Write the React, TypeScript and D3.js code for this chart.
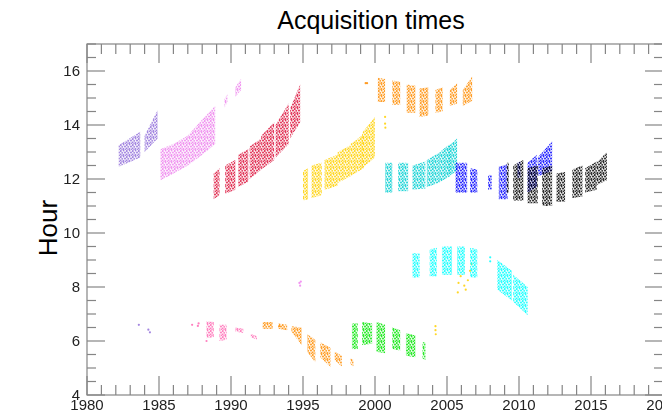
import * as d3 from 'd3';

// Each band: [yearStart, yearEnd, lowAtStart, highAtStart, lowAtEnd, highAtEnd] in hours
type Band = [number, number, number, number, number, number];
type Pt = [number, number];

const purpleBands: Band[] = [
  [1982.2, 1983.7, 12.45, 13.25, 12.8, 13.75],
  [1984.0, 1984.9, 13.0, 13.6, 13.5, 14.55],
];
const purpleDots: Pt[] = [[1983.6, 6.6], [1984.26, 6.42], [1984.37, 6.32]];

const violetBands: Band[] = [
  [1985.1, 1986.0, 11.95, 13.1, 12.2, 13.3],
  [1986.0, 1987.0, 12.2, 13.3, 12.5, 13.6],
  [1987.0, 1988.0, 12.5, 13.6, 12.9, 14.2],
  [1988.0, 1988.9, 12.9, 14.2, 13.3, 14.7],
  [1989.55, 1989.75, 14.65, 14.95, 14.85, 15.15],
  [1990.3, 1990.7, 15.05, 15.4, 15.3, 15.7],
];
const violetDots: Pt[] = [[1994.75, 8.15], [1994.8, 8.05], [1994.85, 8.2]];

const pinkBands: Band[] = [
  [1988.3, 1988.8, 6.1, 6.73, 6.15, 6.7],
  [1989.2, 1989.7, 6.0, 6.6, 6.05, 6.6],
  [1990.3, 1990.85, 6.35, 6.5, 6.3, 6.45],
  [1991.37, 1991.8, 6.15, 6.26, 6.05, 6.18],
];
const pinkDots: Pt[] = [[1987.3, 6.6], [1987.7, 6.56], [1987.75, 6.65], [1988.3, 6.0]];

const crimsonBands: Band[] = [
  [1988.8, 1989.2, 11.25, 12.2, 11.4, 12.4],
  [1989.6, 1990.3, 11.45, 12.5, 11.6, 12.7],
  [1990.5, 1991.2, 11.7, 12.9, 11.9, 13.1],
  [1991.3, 1992.1, 12.0, 13.2, 12.35, 13.5],
  [1992.1, 1993.0, 12.35, 13.6, 12.7, 14.1],
  [1993.1, 1994.0, 12.8, 14.0, 13.3, 14.8],
  [1994.1, 1994.8, 13.5, 14.6, 14.1, 15.5],
];

const orangeLowBands: Band[] = [
  [1992.2, 1992.9, 6.45, 6.7, 6.45, 6.7],
  [1993.3, 1993.9, 6.45, 6.65, 6.4, 6.6],
  [1994.2, 1994.9, 6.35, 6.55, 5.85, 6.5],
  [1995.3, 1995.85, 5.6, 6.25, 5.2, 6.05],
  [1996.2, 1996.9, 5.4, 5.95, 5.05, 5.75],
  [1997.2, 1997.7, 5.3, 5.6, 5.05, 5.45],
  [1998.3, 1998.5, 5.15, 5.35, 5.05, 5.3],
];
const orangeHighBands: Band[] = [
  [2000.2, 2000.7, 14.85, 15.75, 14.85, 15.7],
  [2001.2, 2001.75, 14.75, 15.65, 14.75, 15.6],
  [2002.2, 2002.8, 14.45, 15.5, 14.45, 15.45],
  [2003.1, 2003.7, 14.3, 15.35, 14.35, 15.4],
  [2004.2, 2004.7, 14.45, 15.3, 14.5, 15.4],
  [2005.2, 2005.7, 14.7, 15.3, 14.8, 15.55],
  [2006.1, 2006.75, 14.7, 15.3, 14.9, 15.8],
];
const orangeDots: Pt[] = [[1999.35, 15.55], [1999.45, 15.55], [1993.35, 6.55]];

const goldBands: Band[] = [
  [1995.0, 1995.35, 11.2, 12.3, 11.25, 12.4],
  [1995.6, 1996.3, 11.3, 12.5, 11.4, 12.6],
  [1996.5, 1997.4, 11.6, 12.7, 11.75, 12.9],
  [1997.4, 1998.3, 11.85, 13.0, 12.1, 13.25],
  [1998.3, 1999.2, 12.1, 13.3, 12.4, 13.65],
  [1999.1, 2000.0, 12.4, 13.7, 12.8, 14.3],
];
const goldDots: Pt[] = [
  [2000.7, 14.3], [2000.7, 14.05], [2000.72, 13.9],
  [2004.2, 6.55], [2004.2, 6.4], [2004.22, 6.25],
  [2005.75, 7.8], [2005.8, 8.15], [2005.95, 8.4], [2006.2, 8.05],
  [2006.45, 8.25], [2006.6, 8.6], [2006.7, 8.85], [2006.3, 7.9],
];

const greenBands: Band[] = [
  [1998.4, 1998.8, 5.7, 6.65, 5.7, 6.65],
  [1999.1, 1999.8, 5.85, 6.7, 5.9, 6.65],
  [2000.1, 2000.7, 5.6, 6.7, 5.55, 6.6],
  [2001.2, 2001.75, 5.7, 6.5, 5.65, 6.4],
  [2002.15, 2002.8, 5.45, 6.3, 5.4, 6.2],
  [2003.3, 2003.5, 5.35, 5.95, 5.3, 5.95],
];

const turquoiseBands: Band[] = [
  [2000.7, 2001.2, 11.5, 12.6, 11.5, 12.6],
  [2001.6, 2002.3, 11.55, 12.6, 11.55, 12.6],
  [2002.6, 2003.5, 11.6, 12.5, 11.65, 12.65],
  [2003.6, 2004.4, 11.7, 12.7, 11.85, 12.95],
  [2004.4, 2005.2, 11.85, 12.95, 12.1, 13.3],
  [2005.1, 2005.7, 12.1, 13.2, 12.3, 13.5],
];

const cyanBands: Band[] = [
  [2002.6, 2003.1, 8.35, 9.25, 8.35, 9.25],
  [2003.8, 2004.3, 8.4, 9.4, 8.4, 9.45],
  [2004.65, 2005.35, 8.45, 9.5, 8.45, 9.5],
  [2005.7, 2006.25, 8.45, 9.5, 8.45, 9.5],
  [2006.6, 2007.1, 8.35, 9.45, 8.35, 9.4],
  [2008.5, 2009.5, 7.9, 9.0, 7.5, 8.6],
  [2009.6, 2010.6, 7.45, 8.45, 6.95, 8.0],
];
const cyanDots: Pt[] = [[2008.0, 9.1], [2008.0, 8.95]];

const blueBands: Band[] = [
  [2005.6, 2006.4, 11.5, 12.6, 11.5, 12.6],
  [2006.6, 2007.1, 11.5, 12.4, 11.5, 12.35],
  [2007.85, 2008.1, 11.6, 12.15, 11.6, 12.15],
  [2008.6, 2009.2, 11.25, 12.45, 11.25, 12.55],
  [2009.9, 2010.1, 12.05, 12.6, 12.05, 12.65],
  [2010.6, 2011.25, 11.5, 12.6, 11.7, 12.9],
  [2011.3, 2012.3, 12.1, 12.8, 12.3, 13.4],
];

const blackBands: Band[] = [
  [2009.15, 2009.3, 11.5, 12.6, 11.5, 12.6],
  [2009.6, 2010.3, 11.2, 12.5, 11.2, 12.7],
  [2010.6, 2011.3, 11.1, 12.4, 11.1, 12.5],
  [2011.6, 2012.3, 11.0, 12.4, 11.0, 12.5],
  [2012.6, 2013.2, 11.15, 12.2, 11.15, 12.26],
  [2013.7, 2014.4, 11.3, 12.35, 11.35, 12.5],
  [2014.6, 2015.4, 11.5, 12.4, 11.6, 12.65],
  [2015.4, 2016.1, 11.78, 12.6, 11.95, 13.0],
];

const series = [
  { name: 'purple', color: '#9370db', bands: purpleBands, dots: purpleDots },
  { name: 'violet', color: '#ee82ee', bands: violetBands, dots: violetDots },
  { name: 'pink', color: '#ff69b4', bands: pinkBands, dots: pinkDots },
  { name: 'crimson', color: '#dc143c', bands: crimsonBands, dots: [] as Pt[] },
  { name: 'orangeLow', color: '#ff8c00', bands: orangeLowBands, dots: orangeDots },
  { name: 'orangeHigh', color: '#ff8c00', bands: orangeHighBands, dots: [] as Pt[] },
  { name: 'gold', color: '#ffd000', bands: goldBands, dots: goldDots },
  { name: 'green', color: '#00e600', bands: greenBands, dots: [] as Pt[] },
  { name: 'turquoise', color: '#00ced1', bands: turquoiseBands, dots: [] as Pt[] },
  { name: 'cyan', color: '#00ffff', bands: cyanBands, dots: cyanDots },
  { name: 'blue', color: '#0000ff', bands: blueBands, dots: [] as Pt[] },
  { name: 'black', color: '#000000', bands: blackBands, dots: [] as Pt[] },
];

const xTicks = [1980, 1985, 1990, 1995, 2000, 2005, 2010, 2015, 2020];
const yTicks = [4, 6, 8, 10, 12, 14, 16];

const W = 662;
const H = 412;
const left = 87;
const right = 663;
const top = 44;
const bottom = 395;

// speckle layout inside one pattern tile (irregular so the fill reads as scattered points)
const speckle: [number, number, number][] = [
  [0.8, 1.0, 1.0], [3.6, 0.6, 0.8], [2.2, 2.8, 0.9], [5.0, 2.4, 1.0],
  [0.6, 4.4, 0.9], [3.4, 4.9, 1.0], [5.4, 5.3, 0.7], [1.9, 5.6, 0.6],
];

export default function App() {
  const x = d3.scaleLinear().domain([1980, 2020]).range([left, right]);
  const y = d3.scaleLinear().domain([4, 17]).range([bottom, top]);

  const minorX = d3.range(1980, 2021, 1);
  const minorY = d3.range(4, 17.01, 0.5);
  const frame = '#858585';

  const quad = (b: Band) =>
    d3.line<Pt>().x((d) => x(d[0])).y((d) => y(d[1]))([
      [b[0], b[2]],
      [b[0], b[3]],
      [b[1], b[5]],
      [b[1], b[4]],
    ]) + 'Z';

  return (
    <svg
      width={W}
      height={H}
      style={{ position: 'absolute', left: 0, top: 0, background: '#fff' }}
      fontFamily="'Liberation Sans', Arial, sans-serif"
    >
      <defs>
        {series.map((s) => (
          <pattern
            key={s.name}
            id={`dots-${s.name}`}
            width={6}
            height={6}
            patternUnits="userSpaceOnUse"
          >
            {speckle.map((c, i) => (
              <circle key={i} cx={c[0]} cy={c[1]} r={c[2]} fill={s.color} opacity={0.85} />
            ))}
          </pattern>
        ))}
        <filter id="soft" x="-5%" y="-5%" width="110%" height="110%">
          <feGaussianBlur stdDeviation={0.3} />
        </filter>
      </defs>

      <text x={371} y={29} textAnchor="middle" fontSize={25} fill="#000">
        Acquisition times
      </text>
      <text
        transform={`translate(57,228) rotate(-90)`}
        textAnchor="middle"
        fontSize={26}
        fill="#000"
      >
        Hour
      </text>

      {/* data */}
      <g filter="url(#soft)">
        {series.map((s) => (
          <g key={s.name}>
            {s.bands.map((b, i) => (
              <g key={i}>
                <path d={quad(b)} fill={s.color} opacity={0.1} />
                <path d={quad(b)} fill={`url(#dots-${s.name})`} />
              </g>
            ))}
            {s.dots.map((p, i) => (
              <circle key={`d${i}`} cx={x(p[0])} cy={y(p[1])} r={1.1} fill={s.color} opacity={0.85} />
            ))}
          </g>
        ))}
      </g>

      {/* frame and ticks */}
      <rect x={left} y={top} width={right - left} height={bottom - top} fill="none" stroke={frame} strokeWidth={1.2} />
      {minorX.map((t) => {
        const len = t % 5 === 0 ? 19 : 10;
        return (
          <g key={`x${t}`} stroke={frame} strokeWidth={1.2}>
            <line x1={x(t)} x2={x(t)} y1={bottom} y2={bottom - len} />
            <line x1={x(t)} x2={x(t)} y1={top} y2={top + len} />
          </g>
        );
      })}
      {minorY.map((t) => {
        const len = t % 2 === 0 ? 18 : 9;
        return (
          <g key={`y${t}`} stroke={frame} strokeWidth={1.2}>
            <line x1={left} x2={left + len} y1={y(t)} y2={y(t)} />
            <line x1={right} x2={right - len} y1={y(t)} y2={y(t)} />
          </g>
        );
      })}
      {xTicks.map((t) => (
        <text key={`xl${t}`} x={x(t)} y={410} textAnchor="middle" fontSize={15} fill="#222">
          {t}
        </text>
      ))}
      {yTicks.map((t) => (
        <text key={`yl${t}`} x={left - 7} y={y(t) + 5} textAnchor="end" fontSize={15} fill="#222">
          {t}
        </text>
      ))}
    </svg>
  );
}
